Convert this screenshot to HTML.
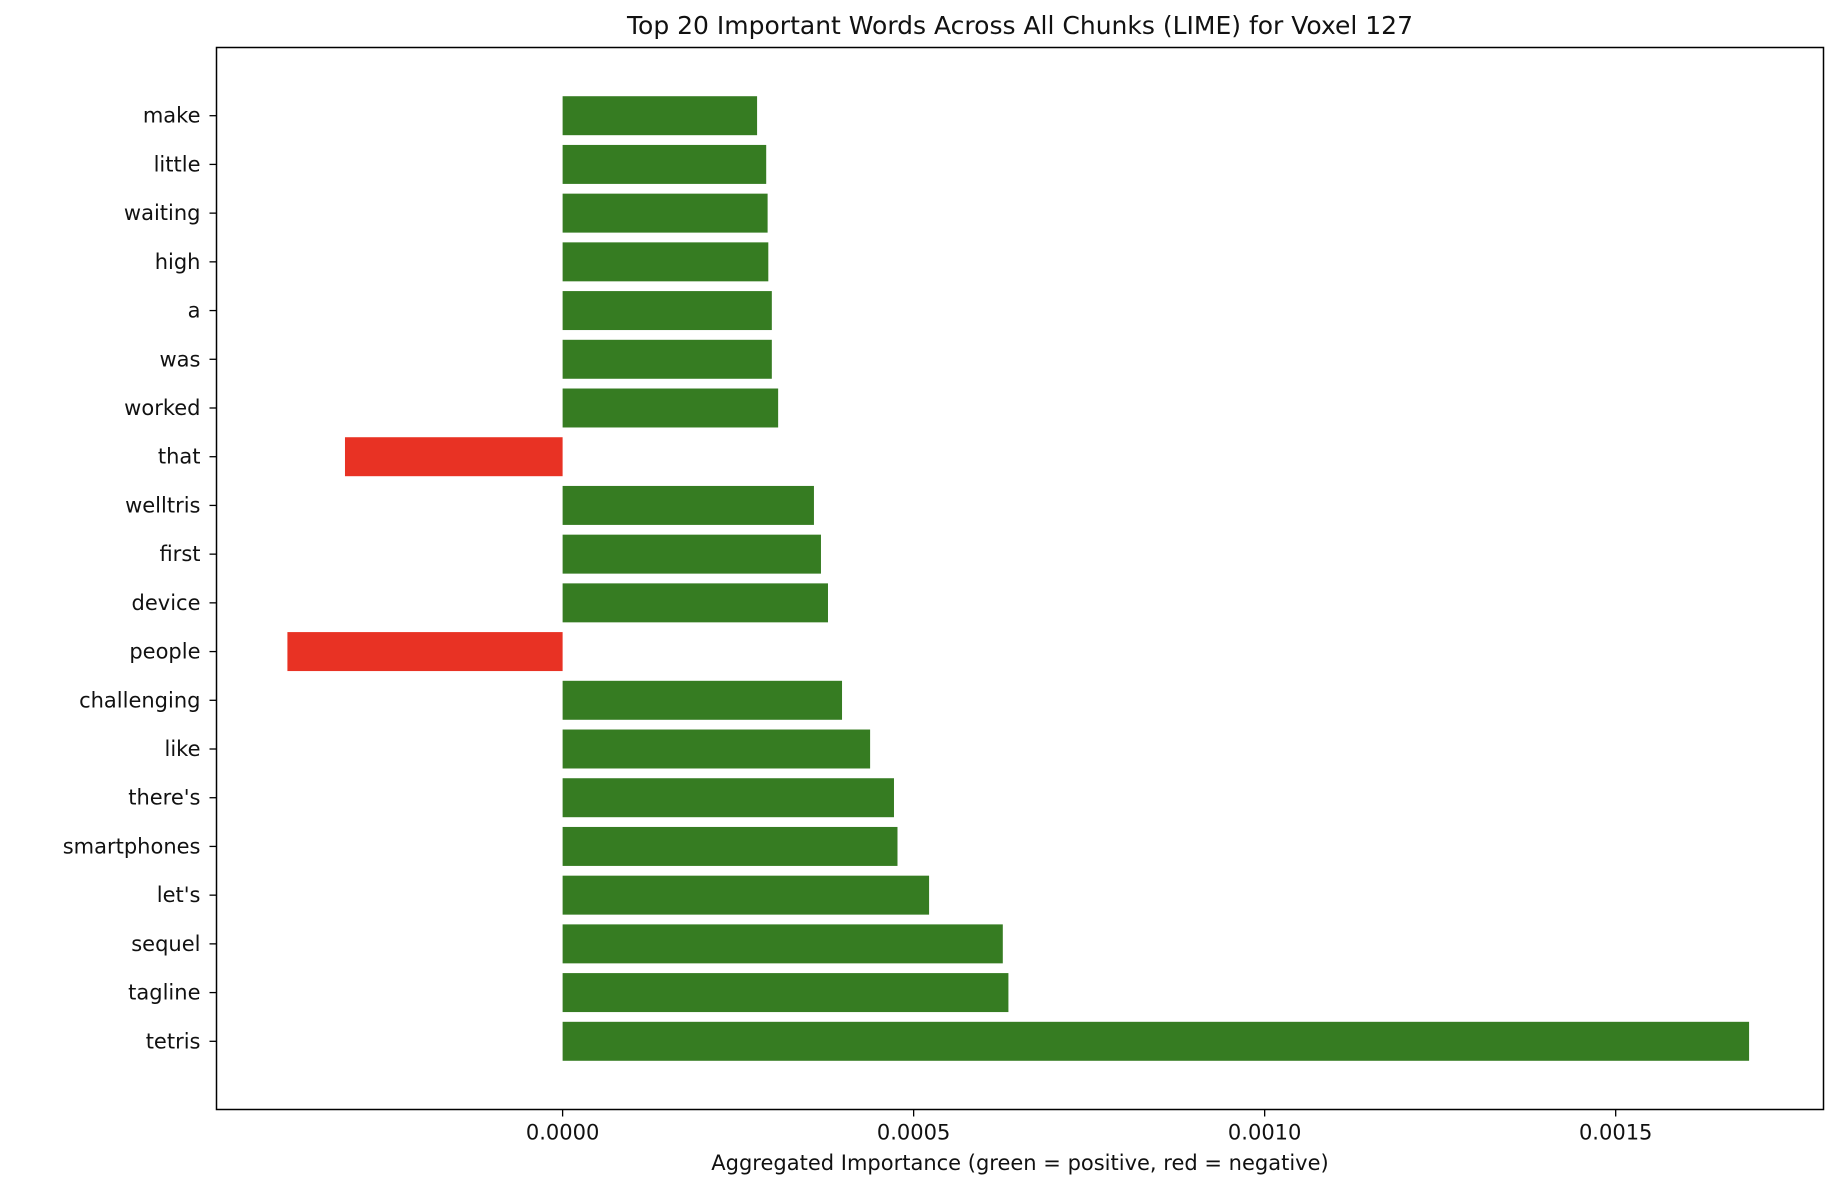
<!DOCTYPE html>
<html><head><meta charset="utf-8"><style>
html,body{margin:0;padding:0;background:#fff;}
svg{display:block;font-family:"DejaVu Sans","Liberation Sans",sans-serif;}
</style></head><body>
<svg id="chart" width="1836" height="1192" viewBox="0 0 1836 1192" xmlns="http://www.w3.org/2000/svg">
<rect x="0" y="0" width="1836" height="1192" fill="#fff"/>
<text x="1020" y="34" font-size="25" text-anchor="middle" fill="#111">Top 20 Important Words Across All Chunks (LIME) for Voxel 127</text>
<g id="bars"></g>
<g id="yaxis"></g>
<g id="xaxis"></g>
<rect x="216.5" y="47.5" width="1607" height="1062" fill="none" stroke="#000" stroke-width="1.5"/>
<text x="1020" y="1170" font-size="21" text-anchor="middle" fill="#111">Aggregated Importance (green = positive, red = negative)</text>
</svg>
<script>
const words = ["make","little","waiting","high","a","was","worked","that","welltris","first","device","people","challenging","like","there's","smartphones","let's","sequel","tagline","tetris"];
const values = [0.000277,0.000290,0.000292,0.000293,0.000298,0.000298,0.000307,-0.000310,0.000358,0.000368,0.000378,-0.000392,0.000398,0.000438,0.000472,0.000477,0.000522,0.000627,0.000635,0.00169];
const xTicks = [0,0.0005,0.0010,0.0015];
const xTickLabels = ["0.0000","0.0005","0.0010","0.0015"];

const L=216.5,R=1823.5,T=47.5,B=1109.5;
const xMin=-0.000493,xMax=0.001796;
const x=v=>L+(v-xMin)/(xMax-xMin)*(R-L);
const step=(B-T)/(words.length-1+2.8);
const y=i=>T+1.4*step+i*step;
const bh=step*0.8;
const NS="http://www.w3.org/2000/svg";
const bars=document.getElementById('bars'),ya=document.getElementById('yaxis'),xa=document.getElementById('xaxis');
function mk(tag,attrs,parent){const e=document.createElementNS(NS,tag);for(const k in attrs)e.setAttribute(k,attrs[k]);parent.appendChild(e);return e;}
words.forEach((w,i)=>{
  const v=values[i];
  const r=mk('rect',{x:Math.min(x(0),x(v)),y:y(i)-bh/2,width:Math.abs(x(v)-x(0)),height:bh,fill:v>=0?'#367c22':'#e83224'},bars);
  
  
  const t=mk('line',{x1:L-7,x2:L,y1:y(i),y2:y(i),stroke:'#000','stroke-width':1.3},ya);
  
  
  const lb=mk('text',{x:L-16,y:y(i)+7,'font-size':21,'text-anchor':'end',fill:'#111'},ya);
  lb.textContent=w;
  
  
});
xTicks.forEach((v,i)=>{
  const t=mk('line',{x1:x(v),x2:x(v),y1:B,y2:B+7,stroke:'#000','stroke-width':1.3},xa);
  
  
  const lb=mk('text',{x:x(v),y:B+30,'font-size':21,'text-anchor':'middle',fill:'#111'},xa);
  lb.textContent=xTickLabels[i];
  
  
});
</script>
</body></html>
